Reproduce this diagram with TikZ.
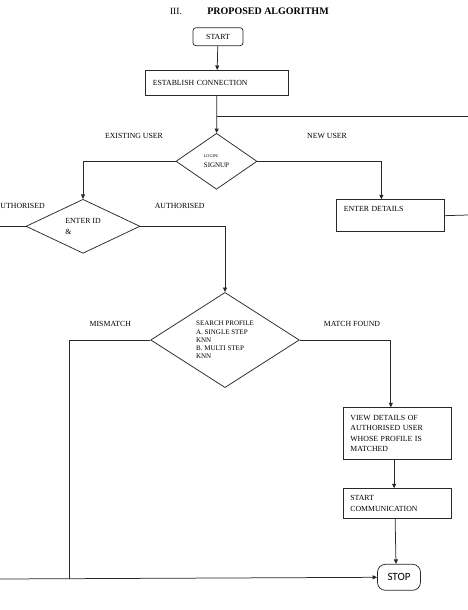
\documentclass[tikz,border=0pt]{standalone}
\usepackage{fontspec}
\setmainfont{Liberation Serif}
\newfontfamily\stopFont{Carlito}
\usetikzlibrary{shapes.geometric,arrows.meta,positioning}
\definecolor{lineGray}{RGB}{40,40,40}
\newcommand{\flowFont}{\fontsize{7.8}{10.5}\selectfont}
\tikzset{
  procBox/.style={rectangle,draw=lineGray,line width=0.75pt,anchor=north west,
                  align=left,text width=#1,inner xsep=7.5pt,inner ysep=0pt,font=\flowFont},
  decBox/.style={diamond,draw=lineGray,line width=0.75pt,inner sep=0pt,
                 align=left,font=\flowFont},
  termBox/.style={rectangle,rounded corners=#1,draw=lineGray,line width=0.75pt,
                  inner sep=0pt,font=\flowFont},
  flowArrow/.style={-{Triangle[length=4.5pt,width=4pt]},line width=0.75pt,lineGray},
  flowLine/.style={line width=0.75pt,lineGray},
  lblText/.style={inner sep=0pt,font=\flowFont},
}

\begin{document}
\begin{tikzpicture}[x=1pt,y=-1pt]
  \useasboundingbox (0,0) rectangle (468,610);
  % heading
  \node[inner sep=0pt,font=\fontsize{9.5}{11}\selectfont](secNo) at (176,11){III.};
  \node[inner sep=0pt,font=\fontsize{10}{12}\selectfont\bfseries](secTitle) at (268,11){PROPOSED ALGORITHM};
  % boxes
  \node[termBox=3pt,minimum width=50pt,minimum height=18pt](start) at (218,36.7){START};
  \node[procBox=128pt,minimum height=25pt](conn) at (145,70){ESTABLISH CONNECTION};
  \node[decBox,minimum width=81pt,minimum height=56pt](login) at (216.5,161.3)
      {{\fontsize{4.3}{5}\selectfont LOGIN/}\\{\fontsize{7}{8}\selectfont SIGNUP}};
  \node[decBox,minimum width=114pt,minimum height=54pt](enterId) at (83,226.3){ENTER ID\\\&};
  \node[procBox=93pt,text height=11.7pt,text depth=20.3pt](details) at (336,199.3){ENTER DETAILS};
  \node[decBox,minimum width=148.6pt,minimum height=94.6pt,
        font=\fontsize{7}{8.2}\selectfont](search) at (225,340)
      {SEARCH PROFILE\\A. SINGLE STEP\\KNN\\B. MULTI STEP\\KNN};
  \node[procBox=93.5pt,minimum height=52pt](view) at (342.5,407.3)
      {VIEW DETAILS OF\\AUTHORISED USER\\WHOSE PROFILE IS\\MATCHED};
  \node[procBox=93.5pt,minimum height=30pt](comm) at (342.5,488.3){START\\COMMUNICATION};
  \node[termBox=8pt,minimum width=43pt,minimum height=26pt,font=\stopFont\fontsize{11}{13}\selectfont](stop) at (399,577.3){STOP};
  % branch labels
  \node[lblText](existLbl) at (134,135.7){EXISTING USER};
  \node[lblText](newLbl) at (327,135.7){NEW USER};
  \node[lblText,anchor=west](unauthLbl) at (0.3,205.7){UTHORISED};
  \node[lblText](authLbl) at (179.7,205.7){AUTHORISED};
  \node[lblText](mismatchLbl) at (110.3,324){MISMATCH};
  \node[lblText](matchLbl) at (352,324){MATCH FOUND};
  % loose ends
  \coordinate (branchR) at (468,116.3);
  \coordinate (detailsR) at (468,215);
  \coordinate (enterIdL) at (0,226.3);
  \coordinate (mismatchDn) at (69.3,579);
  \coordinate (bottomL) at (0,579);
  % connectors
  \foreach \x/\y in {start/conn,conn/login}{\draw[flowArrow](\x)--(\y);}
  \draw[flowLine](conn.south |- branchR)--(branchR);
  \draw[flowArrow](login.west)-|(enterId.north);
  \draw[flowArrow](login.east)-|([xshift=-9pt]details.north);
  \draw[flowLine](details.east)--(detailsR);
  \draw[flowLine](enterId.west)--(enterIdL);
  \draw[flowArrow](enterId.east)-|(search.north);
  \draw[flowLine](search.west)-|(mismatchDn);
  \draw[flowArrow](bottomL)--(stop.west);
  \draw[flowArrow](search.east)-|([xshift=-6.3pt]view.north);
  \draw[flowArrow]([xshift=-3pt]view.south)--([xshift=-3pt]comm.north);
  \draw[flowArrow]([xshift=-2pt]comm.south)--([xshift=-3pt]stop.north);
\end{tikzpicture}
\end{document}
